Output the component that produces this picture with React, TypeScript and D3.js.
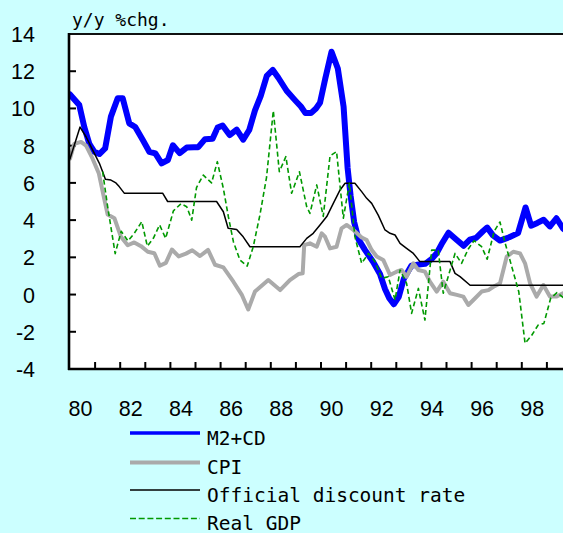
import React from "react";
import * as d3 from "d3";

// ---- data (year, y/y %chg.) ----
const m2Years = [1980.0,1980.37,1980.57,1980.77,1980.97,1981.17,1981.4,1981.63,1981.9,1982.1,1982.36,1982.6,1982.9,1983.16,1983.4,1983.65,1983.9,1984.1,1984.37,1984.65,1984.94,1985.11,1985.38,1985.68,1985.88,1986.08,1986.36,1986.64,1986.9,1987.14,1987.37,1987.6,1987.84,1988.08,1988.3,1988.63,1988.98,1989.2,1989.38,1989.6,1989.8,1989.96,1990.17,1990.42,1990.67,1990.9,1991.06,1991.18,1991.32,1991.5,1991.75,1992.08,1992.35,1992.55,1992.72,1992.9,1993.1,1993.3,1993.6,1993.9,1994.15,1994.4,1994.6,1994.8,1995.08,1995.4,1995.68,1995.93,1996.18,1996.45,1996.62,1996.85,1997.13,1997.5,1997.85,1998.15,1998.37,1998.62,1998.87,1999.12,1999.38,1999.64,1999.8];
const m2Values = [10.75,10.18,9.0,8.1,7.67,7.55,7.85,9.56,10.55,10.55,9.2,9.0,8.3,7.67,7.58,7.05,7.23,8.02,7.6,7.9,7.92,7.92,8.35,8.37,8.97,9.08,8.57,8.86,8.32,8.84,9.9,10.68,11.75,12.07,11.65,10.95,10.42,10.1,9.75,9.75,10.0,10.3,11.6,13.05,12.15,10.1,6.8,5.3,3.9,2.95,2.4,1.75,1.1,0.3,-0.2,-0.52,-0.12,0.85,1.55,1.62,1.65,1.9,2.2,2.7,3.32,2.95,2.62,2.95,3.05,3.4,3.6,3.18,2.9,3.08,3.3,4.68,3.7,3.85,4.02,3.66,4.1,3.55,3.4];

const cpiYears = [1980.0,1980.17,1980.44,1980.64,1980.9,1981.15,1981.37,1981.5,1981.77,1982.03,1982.3,1982.56,1982.83,1983.1,1983.36,1983.58,1983.82,1984.06,1984.33,1984.62,1984.87,1985.18,1985.5,1985.78,1986.11,1986.51,1986.84,1987.1,1987.37,1987.9,1988.37,1988.76,1989.1,1989.27,1989.33,1989.56,1989.83,1990.03,1990.16,1990.36,1990.62,1990.82,1991.02,1991.29,1991.62,1991.82,1992.02,1992.22,1992.48,1992.75,1993.01,1993.21,1993.41,1993.68,1993.88,1994.14,1994.34,1994.61,1994.87,1995.14,1995.41,1995.67,1995.87,1996.14,1996.4,1996.67,1996.87,1997.13,1997.4,1997.66,1997.93,1998.13,1998.33,1998.59,1998.86,1999.12,1999.39,1999.64,1999.8];
const cpiValues = [7.3,8.1,8.2,8.0,7.3,6.5,5.1,4.3,4.1,3.1,2.65,2.8,2.6,2.3,2.22,1.55,1.7,2.42,2.05,2.2,2.38,2.07,2.4,1.6,1.46,0.69,0.0,-0.8,0.16,0.78,0.24,0.78,1.1,1.14,2.66,2.75,2.57,3.29,3.11,2.48,2.57,3.56,3.74,3.47,3.07,2.93,2.39,2.04,1.86,1.05,1.23,1.32,0.96,1.68,1.32,1.23,0.69,0.16,0.69,0.07,-0.02,-0.11,-0.56,-0.2,0.16,0.24,0.42,0.6,2.04,2.3,2.21,1.68,0.6,-0.11,0.51,-0.11,-0.11,0.07,0.1];

const rateYears = [1980.0,1980.4,1980.64,1980.9,1981.17,1981.3,1981.41,1981.63,1981.83,1981.96,1982.16,1983.69,1983.89,1985.84,1986.11,1986.3,1986.64,1986.9,1987.17,1989.16,1989.43,1989.69,1989.96,1990.23,1990.49,1990.76,1990.96,1991.35,1991.62,1991.82,1992.02,1992.28,1992.55,1992.75,1992.95,1993.15,1993.41,1993.68,1993.94,1995.14,1995.34,1995.54,1995.94,1999.8];
const rateValues = [7.3,9.0,8.48,7.77,7.05,6.6,6.2,6.15,6.0,5.8,5.45,5.45,5.0,5.0,4.45,3.56,3.5,3.1,2.57,2.57,3.02,3.29,3.74,4.19,4.9,5.62,5.98,5.98,5.53,5.17,4.9,4.27,3.47,3.29,3.2,2.75,2.48,2.21,1.77,1.77,1.14,0.96,0.5,0.5];

const gdpYears = [1981.3,1981.5,1981.8,1982.04,1982.31,1982.56,1982.86,1983.08,1983.32,1983.57,1983.81,1984.12,1984.42,1984.65,1984.85,1985.04,1985.31,1985.64,1985.87,1986.11,1986.31,1986.51,1986.77,1987.06,1987.3,1987.57,1987.83,1988.1,1988.34,1988.6,1988.83,1989.14,1989.43,1989.56,1989.83,1990.09,1990.36,1990.62,1990.89,1991.13,1991.35,1991.62,1991.89,1992.15,1992.42,1992.68,1992.95,1993.15,1993.41,1993.61,1993.88,1994.14,1994.41,1994.67,1994.87,1995.34,1995.6,1995.87,1996.1,1996.4,1996.62,1996.9,1997.13,1997.33,1997.62,1997.88,1998.13,1998.39,1998.65,1998.88,1999.15,1999.4,1999.64,1999.8];
const gdpValues = [6.6,4.72,2.2,3.4,2.88,3.29,3.92,2.6,3.02,3.74,3.02,4.5,4.88,4.72,4.0,5.75,6.42,6.0,7.14,5.7,4.18,2.84,1.86,1.53,2.57,4.3,6.3,9.88,6.6,7.41,5.44,6.6,4.72,4.36,5.89,4.2,7.45,7.68,4.1,5.98,3.11,1.68,2.21,1.77,0.87,0.96,-0.29,1.32,0.6,-1.01,0.33,-1.37,2.39,2.39,0.07,2.21,1.68,2.45,2.9,2.57,1.9,3.4,3.9,2.8,1.4,0.15,-2.62,-2.2,-1.64,-1.55,-0.2,0.1,-0.15,0.0];

const yTicks = [-4, -2, 0, 2, 4, 6, 8, 10, 12, 14];
const xTickYears = [1981,1982,1983,1984,1985,1986,1987,1988,1989,1990,1991,1992,1993,1994,1995,1996,1997,1998,1999];
const xLabelYears = [1980,1982,1984,1986,1988,1990,1992,1994,1996,1998];

const seriesNames = ["M2+CD", "CPI", "Official discount rate", "Real GDP"];

export default function App() {
  const W = 563, H = 533;
  const left = 69, top = 34, bottom = 369;
  const x = d3.scaleLinear().domain([1980, 2000]).range([70, 572]);
  const y = d3.scaleLinear().domain([-4, 14]).range([bottom, top]);
  const line = d3.line<[number, number]>().x(d => x(d[0])).y(d => y(d[1]));
  const pts = (ys: number[], vs: number[]) => ys.map((yr, i) => [yr, vs[i]] as [number, number]);

  const series = [
    { name: seriesNames[0], d: pts(m2Years, m2Values), color: "#0000ff", w: 6, dash: undefined as string | undefined, lw: 3.5 },
    { name: seriesNames[1], d: pts(cpiYears, cpiValues), color: "#aaaaaa", w: 4, dash: undefined, lw: 4 },
    { name: seriesNames[2], d: pts(rateYears, rateValues), color: "#000000", w: 1.5, dash: undefined, lw: 1.6 },
    { name: seriesNames[3], d: pts(gdpYears, gdpValues), color: "#009900", w: 1.6, dash: "5,3", lw: 1.6 },
  ];

  const legendY = [433, 462.5, 490, 518.5];
  const legendBase = [445, 474, 502, 529.5];

  return (
    <svg width={W} height={H} style={{ position: "absolute", left: 0, top: 0, display: "block" }}>
      <defs>
        <clipPath id="plotclip">
          <rect x={left} y={top} width={W - left + 20} height={bottom - top} />
        </clipPath>
      </defs>
      <rect x={0} y={0} width={W} height={H} fill="#ccffff" />
      <rect x={left} y={top} width={W - left + 10} height={bottom - top} fill="#ffffff" />
      <text x={72} y={26} fontFamily="DejaVu Sans Mono" fontSize={18} fill="#000">y/y %chg.</text>

      {/* y ticks and labels */}
      {yTicks.map(t => (
        <g key={"y" + t}>
          {t > -4 && t < 14 && <line x1={left} x2={left + 7} y1={y(t)} y2={y(t)} stroke="#000" strokeWidth={2} />}
          <text x={35} y={y(t) + 8} textAnchor="end" fontFamily="Liberation Sans, Arial" fontSize={21.5} fill="#000">{t < 0 ? "-" + Math.abs(t) : String(t)}</text>
        </g>
      ))}
      {/* x ticks */}
      {xTickYears.map(yr => (
        <line key={"xt" + yr} x1={x(yr)} x2={x(yr)} y1={bottom} y2={bottom - 7} stroke="#000" strokeWidth={2} />
      ))}
      {xLabelYears.map(yr => (
        <text key={"xl" + yr} x={x(yr) + 10.5} y={416} textAnchor="middle" fontFamily="Liberation Sans, Arial" fontSize={21.5} fill="#000">{String(yr).slice(2)}</text>
      ))}

      <g clipPath="url(#plotclip)">
        {series.map(s => (
          <path key={s.name} d={line(s.d) || ""} fill="none" stroke={s.color} strokeWidth={s.w}
            strokeDasharray={s.dash} strokeLinejoin="round" strokeLinecap={s.dash ? "butt" : "round"} />
        ))}
      </g>

      {/* frame */}
      <line x1={left} x2={W} y1={top} y2={top} stroke="#111" strokeWidth={2} />
      <line x1={left} x2={left} y1={top - 1} y2={bottom + 1} stroke="#000" strokeWidth={2.6} />
      <line x1={left - 1} x2={W} y1={bottom} y2={bottom} stroke="#000" strokeWidth={2.6} />

      {/* legend */}
      {series.map((s, i) => (
        <g key={"lg" + s.name}>
          <line x1={130} x2={200} y1={legendY[i]} y2={legendY[i]} stroke={s.color} strokeWidth={s.lw}
            strokeDasharray={s.dash ? "6,2.7" : undefined} />
          <text x={207} y={legendBase[i]} fontFamily="DejaVu Sans Mono" fontSize={19.5} fill="#000">{s.name}</text>
        </g>
      ))}
    </svg>
  );
}
